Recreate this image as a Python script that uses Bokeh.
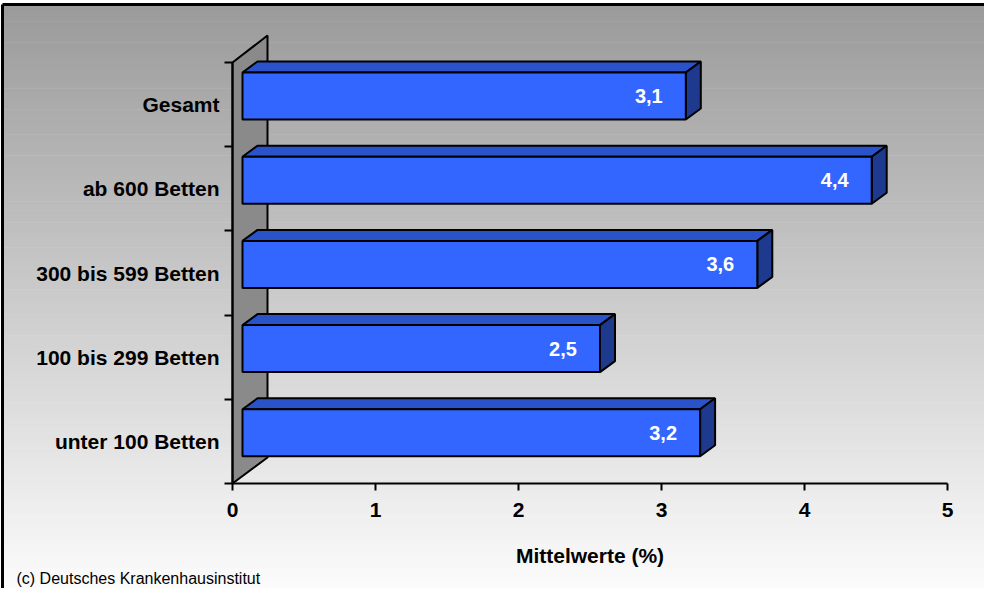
import numpy as np
from bokeh.plotting import figure
from bokeh.models import Range1d, FixedTicker, ColumnDataSource
from bokeh.embed import file_html
from bokeh.resources import INLINE
from bokeh.core.properties import value

# ---------------- data ----------------
categories = ["unter 100 Betten", "100 bis 299 Betten", "300 bis 599 Betten",
              "ab 600 Betten", "Gesamt"]
values = [3.2, 2.5, 3.6, 4.4, 3.1]
value_labels = ["3,2", "2,5", "3,6", "4,4", "3,1"]
x_ticks = [0, 1, 2, 3, 4, 5]
x_title = "Mittelwerte (%)"
source_note = "(c) Deutsches Krankenhausinstitut"

# ---------------- geometry (canvas px) ----------------
W, H = 984, 588
PX_X0, PX_X5 = 232, 947      # screen x of value 0 and 5
PX_YB, PX_YT = 483, 62       # screen y of lowest / highest category boundary
SX = (PX_X5 - PX_X0) / 5.0
SY = (PX_YB - PX_YT) / 5.0
FONT = "Liberation Sans"

def dx(px):
    return (px - PX_X0) / SX

def dy(py):
    return -0.5 + (PX_YB - py) / SY

p = figure(width=W, height=H, output_backend="svg", toolbar_location=None,
           x_range=Range1d(dx(0), dx(W)), y_range=Range1d(dy(H), dy(0)),
           min_border=0, title=None)
p.outline_line_color = None
p.background_fill_color = "white"
p.border_fill_color = "white"
p.grid.visible = False

# ---------------- gradient background ----------------
N = 140
ys = np.linspace(4, H + 2, N + 1)
g = np.linspace(155, 252, N).astype(int)
grad = ColumnDataSource(dict(
    left=[dx(2)] * N, right=[dx(W + 20)] * N,
    top=[dy(v) for v in ys[:-1]], bottom=[dy(v + 0.6) for v in ys[1:]],
    color=["#%02x%02x%02x" % (c, c, c) for c in g]))
p.quad(left="left", right="right", top="top", bottom="bottom", color="color",
       line_color=None, source=grad)
# chart border (left and top edges visible)
p.segment(x0=[dx(2), dx(2)], y0=[dy(H + 20), dy(4)],
          x1=[dx(2), dx(W + 20)], y1=[dy(4), dy(4)],
          line_color="black", line_width=3)

# ---------------- back wall ----------------
WALL_DX, WALL_DYT, WALL_DYB = 35, 27, 26
p.patch([0, WALL_DX / SX, WALL_DX / SX, 0],
        [-0.5, -0.5 + WALL_DYB / SY, 4.5 + WALL_DYT / SY, 4.5],
        fill_color="#8a8a8a", line_color="black", line_width=2)

# ---------------- 3D bars ----------------
BX, BT, BH, DX, DY = 10, 10, 47, 15, 11
x0 = BX / SX
front = dict(left=[], right=[], top=[], bottom=[])
tops_x, tops_y, sides_x, sides_y = [], [], [], []
lab_x, lab_y = [], []
for i, v in enumerate(values):
    yt = i + 0.5 - BT / SY
    yb = yt - BH / SY
    x1 = v + x0
    ddx, ddy = DX / SX, DY / SY
    front["left"].append(x0); front["right"].append(x1)
    front["top"].append(yt); front["bottom"].append(yb)
    tops_x.append([x0, x0 + ddx, x1 + ddx, x1])
    tops_y.append([yt, yt + ddy, yt + ddy, yt])
    sides_x.append([x1, x1 + ddx, x1 + ddx, x1])
    sides_y.append([yt, yt + ddy, yb + ddy, yb])
    lab_x.append(x1 - 37 / SX)
    lab_y.append((yt + yb) / 2)

p.patches(tops_x, tops_y, fill_color="#2a52c9", line_color="black", line_width=2)
p.patches(sides_x, sides_y, fill_color="#1e3a8e", line_color="black", line_width=2)
p.quad(source=ColumnDataSource(front), left="left", right="right", top="top",
       bottom="bottom", fill_color="#3366ff", line_color="black", line_width=2)
p.text(x=lab_x, y=lab_y, text=value_labels, text_color="white",
       text_font=value(FONT), text_font_style="bold", text_font_size="20px",
       text_align="center", text_baseline="middle")

# ---------------- axes ----------------
xa = p.xaxis[0]
xa.fixed_location = -0.5
xa.bounds = (0, 5)
xa.ticker = FixedTicker(ticks=x_ticks)
xa.axis_line_width = 2
xa.axis_line_color = "black"
xa.major_tick_line_width = 2
xa.major_tick_line_color = "black"
xa.major_tick_out = 7
xa.major_tick_in = 0
xa.minor_tick_line_color = None
xa.major_label_text_font = FONT
xa.major_label_text_font_style = "bold"
xa.major_label_text_font_size = "21px"
xa.major_label_text_color = "black"
xa.major_label_standoff = 12
xa.axis_label = x_title
xa.axis_label_text_font = FONT
xa.axis_label_text_font_style = "bold"
xa.axis_label_text_font_size = "21px"
xa.axis_label_text_color = "black"
xa.axis_label_standoff = 24

ya = p.yaxis[0]
ya.fixed_location = 0
ya.bounds = (-0.5, 4.5)
ya.ticker = FixedTicker(ticks=list(range(len(categories))),
                        minor_ticks=[k - 0.5 for k in range(len(categories) + 1)])
ya.major_label_overrides = {i: c for i, c in enumerate(categories)}
ya.axis_line_width = 2
ya.axis_line_color = "black"
ya.major_tick_line_color = None
ya.major_tick_out = 0
ya.major_tick_in = 0
ya.minor_tick_line_width = 2
ya.minor_tick_line_color = "black"
ya.minor_tick_out = 8
ya.minor_tick_in = 0
ya.major_label_text_font = FONT
ya.major_label_text_font_style = "bold"
ya.major_label_text_font_size = "21px"
ya.major_label_text_color = "black"
ya.major_label_standoff = 5

# source note
p.text(x=[dx(16)], y=[dy(578)], text=[source_note], text_color="black",
       text_font=value(FONT), text_font_size="16px",
       text_align="left", text_baseline="alphabetic")

open("out.html", "w").write(file_html(p, INLINE))
